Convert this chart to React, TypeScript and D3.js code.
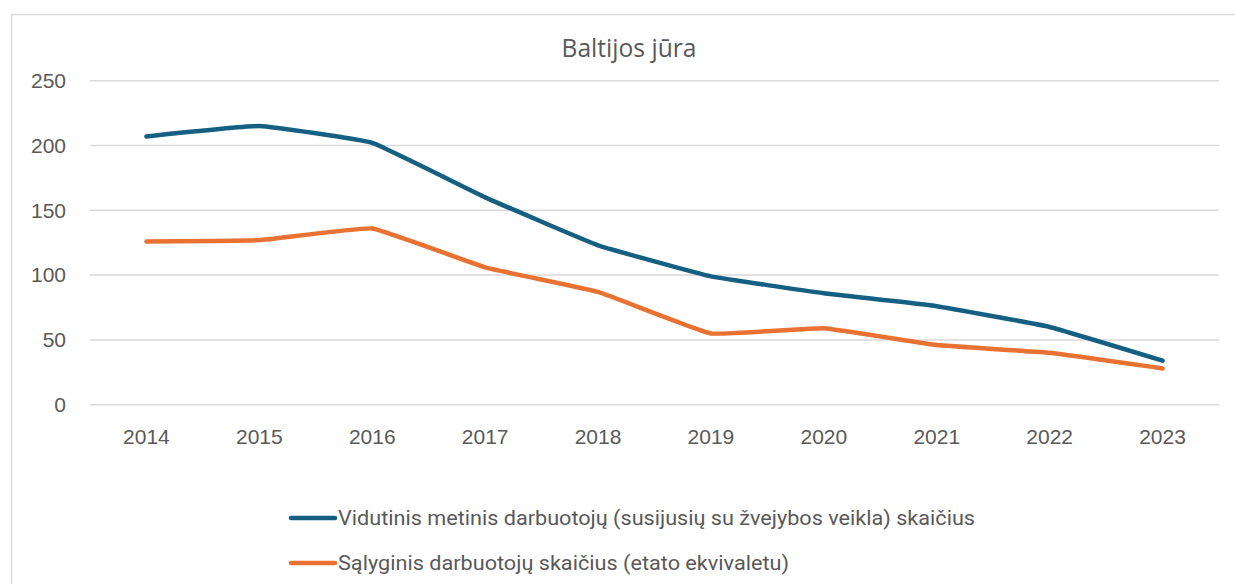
import React from 'react';
import * as d3 from 'd3';

const years = ['2014', '2015', '2016', '2017', '2018', '2019', '2020', '2021', '2022', '2023'];
const average_workers = [207, 215, 202, 160, 123, 99, 86, 76, 60, 34];
const fte_workers = [126, 127, 136, 106, 87, 55, 59, 46, 40, 28];
const y_ticks = [0, 50, 100, 150, 200, 250];
const title = 'Baltijos jūra';
const legend_labels = [
  'Vidutinis metinis darbuotojų (susijusių su žvejybos veikla) skaičius',
  'Sąlyginis darbuotojų skaičius (etato ekvivaletu)',
];

const W = 1235;
const H = 584;
const text_color = '#595959';
const grid_color = '#d9d9d9';
const colors = ['#156082', '#e97132'];

export default function App() {
  // Plot area
  const left = 90;
  const right = 1219;

  const x_scale = d3.scalePoint<string>().domain(years).range([left, right]).padding(0.5);
  const y_scale = d3.scaleLinear().domain([0, 250]).range([404.7, 80.7]);

  // Excel-style light smoothing
  const line = d3
    .line<number>()
    .x((_, i) => x_scale(years[i]) as number)
    .y((d) => y_scale(d))
    .curve(d3.curveCardinal.tension(0.72));

  const series = [average_workers, fte_workers];
  const font = '"Liberation Sans", Arial, sans-serif';
  const legend_widths = [637, 451];

  return (
    <svg
      width={W}
      height={H}
      style={{position: 'absolute', left: 0, top: 0, background: '#fff'}}
    >
      <rect x={11.5} y={14.5} width={1240} height={600} fill="#fff" stroke={grid_color} strokeWidth={1.5} />

      <text
        x={629}
        y={57}
        textAnchor="middle"
        fill={text_color}
        fontFamily='"Open Sans", sans-serif'
        fontSize={25}
        textLength={135}
        lengthAdjust="spacingAndGlyphs"
      >
        {title}
      </text>

      {/* Grid lines and y labels */}
      {y_ticks.map((t) => (
        <g key={t}>
          <line x1={left} x2={right} y1={y_scale(t)} y2={y_scale(t)} stroke={grid_color} strokeWidth={1.5} />
          <text
            x={66}
            y={y_scale(t)}
            dy="0.35em"
            textAnchor="end"
            fill={text_color}
            fontFamily={font}
            fontSize={21}
          >
            {t}
          </text>
        </g>
      ))}

      {/* x labels */}
      {years.map((y) => (
        <text
          key={y}
          x={x_scale(y)}
          y={444}
          textAnchor="middle"
          fill={text_color}
          fontFamily={font}
          fontSize={21}
        >
          {y}
        </text>
      ))}

      {series.map((s, i) => (
        <path
          key={i}
          d={line(s) || ''}
          fill="none"
          stroke={colors[i]}
          strokeWidth={4.5}
          strokeLinecap="round"
          strokeLinejoin="round"
        />
      ))}

      {/* Legend */}
      {legend_labels.map((label, i) => {
        const ly = 518 + i * 45;
        return (
          <g key={label}>
            <line x1={291} x2={335} y1={ly} y2={ly} stroke={colors[i]} strokeWidth={4.5} strokeLinecap="round" />
            <text
              x={338}
              y={ly}
              dy="0.35em"
              fill={text_color}
              fontFamily='"Liberation Sans Narrow", "Roboto", sans-serif'
              fontSize={21}
              textLength={legend_widths[i]}
              lengthAdjust="spacingAndGlyphs"
            >
              {label}
            </text>
          </g>
        );
      })}
    </svg>
  );
}
